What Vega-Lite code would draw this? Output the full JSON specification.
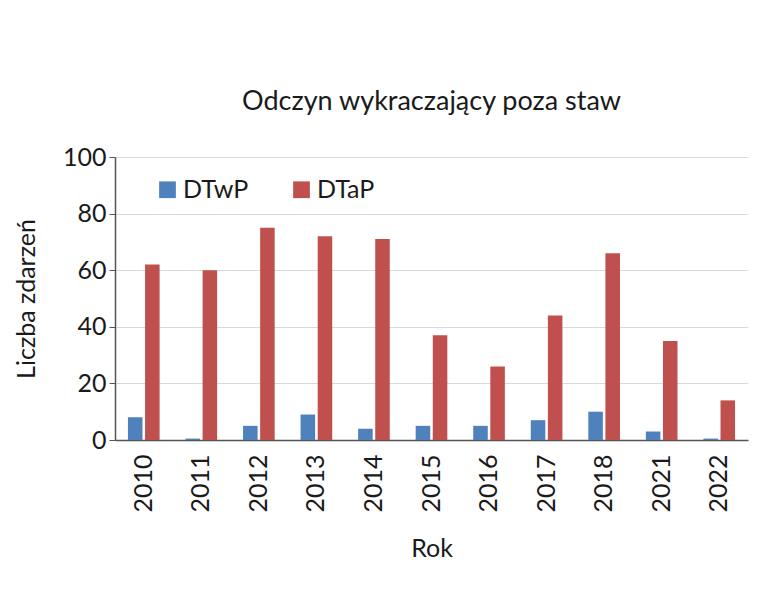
{
  "$schema": "https://vega.github.io/schema/vega-lite/v6.json",
  "autosize": {"type": "none"},
  "padding": {"left": 115, "top": 157, "right": 22, "bottom": 160},
  "width": 633,
  "height": 283,
  "background": "white",
  "title": {
    "text": "Odczyn wykraczający poza staw",
    "font": "Lato",
    "fontSize": 27,
    "fontWeight": "normal",
    "color": "#1a1a1a",
    "offset": 29
  },
  "data": {
    "values": [
      {"Rok": "2010", "seria": "DTwP", "liczba": 8},
      {"Rok": "2010", "seria": "DTaP", "liczba": 62},
      {"Rok": "2011", "seria": "DTwP", "liczba": 0.5},
      {"Rok": "2011", "seria": "DTaP", "liczba": 60},
      {"Rok": "2012", "seria": "DTwP", "liczba": 5},
      {"Rok": "2012", "seria": "DTaP", "liczba": 75},
      {"Rok": "2013", "seria": "DTwP", "liczba": 9},
      {"Rok": "2013", "seria": "DTaP", "liczba": 72},
      {"Rok": "2014", "seria": "DTwP", "liczba": 4},
      {"Rok": "2014", "seria": "DTaP", "liczba": 71},
      {"Rok": "2015", "seria": "DTwP", "liczba": 5},
      {"Rok": "2015", "seria": "DTaP", "liczba": 37},
      {"Rok": "2016", "seria": "DTwP", "liczba": 5},
      {"Rok": "2016", "seria": "DTaP", "liczba": 26},
      {"Rok": "2017", "seria": "DTwP", "liczba": 7},
      {"Rok": "2017", "seria": "DTaP", "liczba": 44},
      {"Rok": "2018", "seria": "DTwP", "liczba": 10},
      {"Rok": "2018", "seria": "DTaP", "liczba": 66},
      {"Rok": "2021", "seria": "DTwP", "liczba": 3},
      {"Rok": "2021", "seria": "DTaP", "liczba": 35},
      {"Rok": "2022", "seria": "DTwP", "liczba": 0.5},
      {"Rok": "2022", "seria": "DTaP", "liczba": 14}
    ]
  },
  "mark": "bar",
  "encoding": {
    "x": {
      "field": "Rok",
      "type": "ordinal",
      "scale": {"paddingInner": 0.45, "paddingOuter": 0.225},
      "axis": {
        "title": "Rok",
        "labelAngle": -90,
        "labelAlign": "right",
        "labelBaseline": "middle",
        "labelPadding": 14,
        "ticks": false,
        "grid": false,
        "titlePadding": 24
      }
    },
    "xOffset": {
      "field": "seria",
      "sort": ["DTwP", "DTaP"],
      "scale": {"paddingInner": 0.15}
    },
    "y": {
      "field": "liczba",
      "type": "quantitative",
      "scale": {"domain": [0, 100]},
      "axis": {
        "title": "Liczba zdarzeń",
        "values": [0, 20, 40, 60, 80, 100],
        "tickSize": 6,
        "labelPadding": 3,
        "titlePadding": 23
      }
    },
    "color": {
      "field": "seria",
      "sort": ["DTwP", "DTaP"],
      "scale": {"domain": ["DTwP", "DTaP"], "range": ["#4F81BD", "#C0504D"]},
      "legend": {
        "title": null,
        "orient": "none",
        "legendX": 40,
        "legendY": 20,
        "direction": "horizontal",
        "symbolType": "square",
        "symbolSize": 280,
        "symbolStrokeWidth": 0,
        "labelFontSize": 25,
        "labelOffset": 3,
        "columnPadding": 40
      }
    }
  },
  "config": {
    "font": "Lato",
    "view": {"stroke": null},
    "axis": {
      "labelFont": "Lato",
      "titleFont": "Lato",
      "labelFontSize": 25,
      "titleFontSize": 25,
      "titleFontWeight": "normal",
      "labelColor": "#1a1a1a",
      "titleColor": "#1a1a1a",
      "domainColor": "#555555",
      "domainWidth": 1.5,
      "tickColor": "#555555",
      "gridColor": "#d9d9d9"
    },
    "legend": {"labelFont": "Lato", "labelColor": "#1a1a1a"}
  }
}
